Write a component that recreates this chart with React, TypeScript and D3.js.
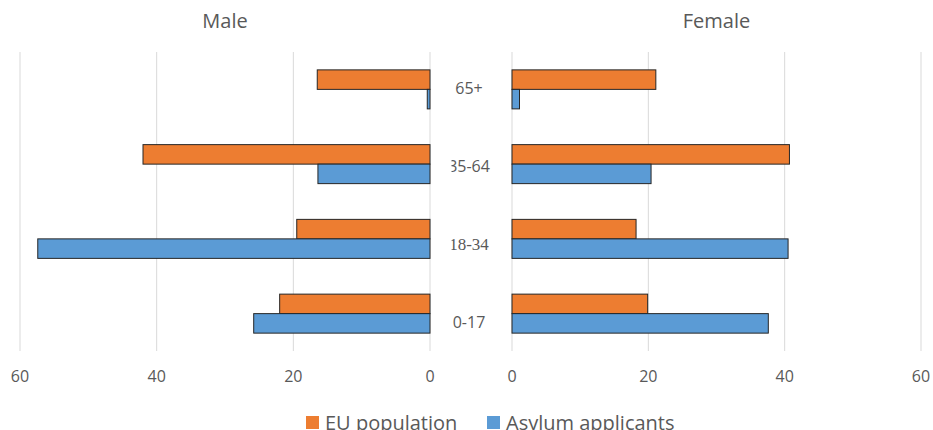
import React from "react";
import * as d3 from "d3";

const categories = ["65+", "35-64", "18-34", "0-17"];
const series = ["EU population", "Asylum applicants"];
const colors = ["#ED7D31", "#5B9BD5"];
const maleEU = [16.5, 42.0, 19.5, 22.0];
const maleAsylum = [0.4, 16.4, 57.4, 25.8];
const femaleEU = [21.1, 40.7, 18.2, 19.9];
const femaleAsylum = [1.1, 20.4, 40.5, 37.6];
const ticks = [0, 20, 40, 60];

const W = 933;
const H = 430;
const FONT = "'Open Sans', sans-serif";
const TXT = "#595959";

export default function App() {
  const xL = d3.scaleLinear().domain([0, 60]).range([430, 20]);
  const xR = d3.scaleLinear().domain([0, 60]).range([512, 921]);
  const y = d3.scaleBand<string>().domain(categories).range([52, 351]);
  const yLbl = d3.scaleBand<string>().domain(categories).range([49.5, 361.5]);
  const barH = 19.5;
  const top = 52, bottom = 351;

  const panels = [
    { x: xL, vals: [maleEU, maleAsylum], title: "Male" },
    { x: xR, vals: [femaleEU, femaleAsylum], title: "Female" },
  ];

  return (
    <svg width={W} height={H} style={{ position: "absolute", left: 0, top: 0, background: "#fff" }}
      fontFamily={FONT}>
      <defs>
        <clipPath id="lblclip">
          <rect x={451.5} y={0} width={60} height={H} />
        </clipPath>
      </defs>
      <rect x={0} y={0} width={W} height={H} fill="#fff" />
      {panels.map((p, pi) => (
        <g key={pi}>
          {ticks.map((t) => (
            <line key={t} x1={p.x(t)} x2={p.x(t)} y1={top} y2={bottom} stroke="#d9d9d9" strokeWidth={1} />
          ))}
          {ticks.map((t) => (
            <text key={"t" + t} x={p.x(t)} y={382} textAnchor="middle" fontSize={16} fill={TXT}>{t}</text>
          ))}
          <text x={(p.x(0) + p.x(60)) / 2} y={28} textAnchor="middle" fontSize={20} fill={TXT}>{p.title}</text>
          {categories.map((c, ci) => {
            const cy = (y(c) as number) + y.bandwidth() / 2;
            return p.vals.map((vals, si) => {
              const x0 = p.x(0), x1 = p.x(vals[ci]);
              return (
                <rect key={c + si}
                  x={Math.min(x0, x1)} y={cy - barH + si * barH}
                  width={Math.abs(x1 - x0)} height={barH}
                  fill={colors[si]} stroke="#262626" strokeWidth={1} />
              );
            });
          })}
        </g>
      ))}
      <g clipPath="url(#lblclip)">
        {categories.map((c, i) => {
          const cy = (yLbl(c) as number) + yLbl.bandwidth() / 2;
          return (
            <text key={c} x={469} y={cy + 5.8} textAnchor="middle"
              fontSize={i === 2 ? 17 : 16}
              fontFamily={i === 2 ? "'Liberation Serif', serif" : FONT}
              fill={TXT}>{c}</text>
          );
        })}
      </g>
      <g>
        <rect x={306} y={416} width={13} height={13} fill={colors[0]} />
        <text x={325} y={429.5} fontSize={20} fill={TXT}>{series[0]}</text>
        <rect x={487} y={416} width={13} height={13} fill={colors[1]} />
        <text x={506} y={429.5} fontSize={20} fill={TXT}>{series[1]}</text>
      </g>
    </svg>
  );
}
